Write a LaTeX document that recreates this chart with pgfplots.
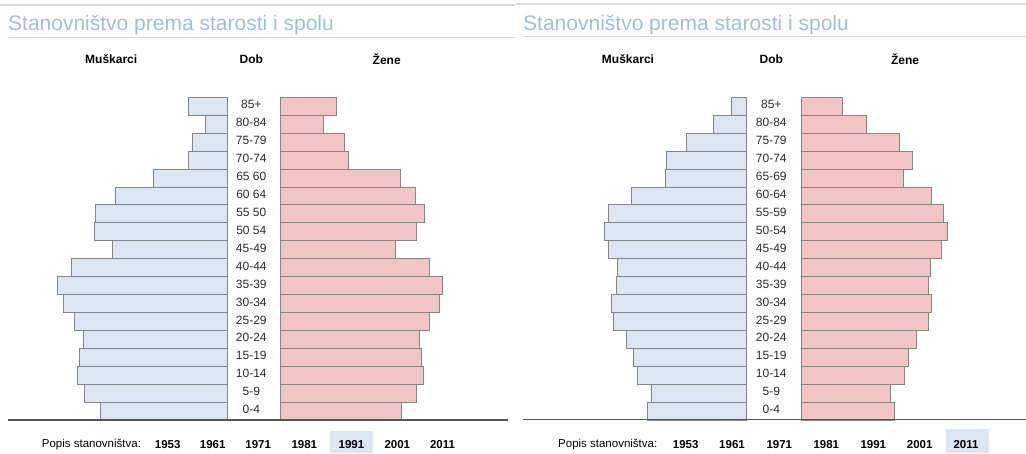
\documentclass[border=0pt]{standalone}
\usepackage{fontspec}
\setmainfont{Liberation Sans}
\usepackage{pgfplots}
\usepackage{pgfplotstable}
\pgfplotsset{compat=1.18}
\definecolor{maleC}{HTML}{DCE6F2}
\definecolor{femC}{HTML}{F2C4C4}
\definecolor{edgeC}{HTML}{858585}
\definecolor{titleC}{HTML}{9DBFE3}
\definecolor{ulineC}{HTML}{D0D5EA}
\definecolor{topC}{HTML}{DADADA}
\definecolor{baseC}{HTML}{555555}
\definecolor{ageC}{HTML}{2A2A2A}

% age index 0 = 0-4 ... 17 = 85+
\pgfplotstableread{
a m f
0 127.7 121.7
1 143.4 136.0
2 150.7 143.0
3 148.4 141.0
4 144.0 139.7
5 153.4 149.7
6 164.4 159.7
7 170.0 162.3
8 156.7 149.0
9 115.4 115.7
10 133.7 136.7
11 132.4 144.0
12 112.0 135.3
13 74.4 120.7
14 39.4 68.3
15 35.0 64.0
16 22.7 43.3
17 39.4 56.3
}\dataL

\pgfplotstableread{
a m f
0 99.4 93.4
1 95.4 89.4
2 109.4 103.4
3 113.0 107.4
4 120.7 115.4
5 133.4 127.4
6 135.4 130.4
7 130.4 127.0
8 129.4 129.0
9 138.0 139.7
10 142.0 146.0
11 138.4 142.4
12 115.7 130.4
13 81.4 101.7
14 80.7 111.4
15 60.7 98.4
16 33.4 65.4
17 15.0 41.0
}\dataR

\pgfplotsset{pyr/.style={scale only axis, height=322.7pt, ymin=-0.5, ymax=17.5,
  enlargelimits=false, xbar, bar width=17.93pt, axis line style={draw=none},
  xtick=\empty, ytick=\empty, major tick length=0pt, clip=false,
  anchor=south west}}

\begin{document}
\begin{tikzpicture}[x=1pt,y=1pt]
\path[use as bounding box] (0,0) rectangle (1026,453);

% ---------- decorations, left panel ----------
\draw[topC, line width=1.5pt] (0,448) -- (515,448);
\node[anchor=west, inner sep=0, text=titleC, font=\fontsize{21}{24}\selectfont] at (8,428) {Stanovništvo prema starosti i spolu};
\draw[ulineC, line width=1pt] (8,415) -- (515,415);
\node[font=\fontsize{12}{14}\selectfont\bfseries] at (111.2,393.5) {Muškarci};
\node[font=\fontsize{12}{14}\selectfont\bfseries] at (251.3,393.5) {Dob};
\node[font=\fontsize{12}{14}\selectfont\bfseries] at (386.7,393.5) {Žene};
\fill[maleC] (330,0) rectangle (373,22);
\node[anchor=west, inner sep=0, font=\fontsize{11.5}{13}\selectfont] at (41.7,8) {Popis stanovništva:};
\foreach \yr/\xx in {1953/167.7,1961/212.7,1971/258.2,1981/304.3,1991/351.5,2001/397.3,2011/442.5}
  \node[font=\fontsize{11.5}{13}\selectfont\bfseries] at (\xx,8) {\yr};

% ---------- decorations, right panel ----------
\draw[topC, line width=1.5pt] (516,449) -- (1026,449);
\node[anchor=west, inner sep=0, text=titleC, font=\fontsize{21}{24}\selectfont] at (523,428) {Stanovništvo prema starosti i spolu};
\draw[ulineC, line width=1pt] (523,416) -- (1026,416);
\node[font=\fontsize{12}{14}\selectfont\bfseries] at (628,393.5) {Muškarci};
\node[font=\fontsize{12}{14}\selectfont\bfseries] at (771.3,393.5) {Dob};
\node[font=\fontsize{12}{14}\selectfont\bfseries] at (905,393.5) {Žene};
\fill[maleC] (945.7,0) rectangle (988.7,24);
\node[anchor=west, inner sep=0, font=\fontsize{11.5}{13}\selectfont] at (558,8) {Popis stanovništva:};
\foreach \yr/\xx in {1953/685.7,1961/732,1971/779.3,1981/826.3,1991/873.3,2001/919.7,2011/966}
  \node[font=\fontsize{11.5}{13}\selectfont\bfseries] at (\xx,8) {\yr};

% ---------- left panel (1991) ----------
\begin{axis}[pyr, at={(0pt,33pt)}, width=227.7pt, xmin=0, xmax=227.7, x dir=reverse]
\addplot[fill=maleC, draw=edgeC, line width=0.8pt] table[x=m, y=a] {\dataL};
\end{axis}
\begin{axis}[pyr, at={(280pt,33pt)}, width=233pt, xmin=0, xmax=233,
  ytick={0,...,17},
  yticklabels={0-4,5-9,10-14,15-19,20-24,25-29,30-34,35-39,40-44,45-49,50 54,55 50,60 64,65 60,70-74,75-79,80-84,85+},
  yticklabel style={anchor=center, xshift=-28.7pt, yshift=1.5pt, text=ageC, font=\fontsize{12}{14}\selectfont}]
\addplot[fill=femC, draw=edgeC, line width=0.8pt] table[x=f, y=a] {\dataL};
\end{axis}
\draw[baseC, line width=1.2pt] (8,33) -- (508,33);

% ---------- right panel (2011) ----------
\begin{axis}[pyr, at={(513pt,33pt)}, width=233.7pt, xmin=0, xmax=233.7, x dir=reverse]
\addplot[fill=maleC, draw=edgeC, line width=0.8pt] table[x=m, y=a] {\dataR};
\end{axis}
\begin{axis}[pyr, at={(801.3pt,33pt)}, width=224.7pt, xmin=0, xmax=224.7,
  ytick={0,...,17},
  yticklabels={0-4,5-9,10-14,15-19,20-24,25-29,30-34,35-39,40-44,45-49,50-54,55-59,60-64,65-69,70-74,75-79,80-84,85+},
  yticklabel style={anchor=center, xshift=-30pt, yshift=1.5pt, text=ageC, font=\fontsize{12}{14}\selectfont}]
\addplot[fill=femC, draw=edgeC, line width=0.8pt] table[x=f, y=a] {\dataR};
\end{axis}
\draw[baseC, line width=1.2pt] (523,33.5) -- (1026,33.5);
\end{tikzpicture}
\end{document}
